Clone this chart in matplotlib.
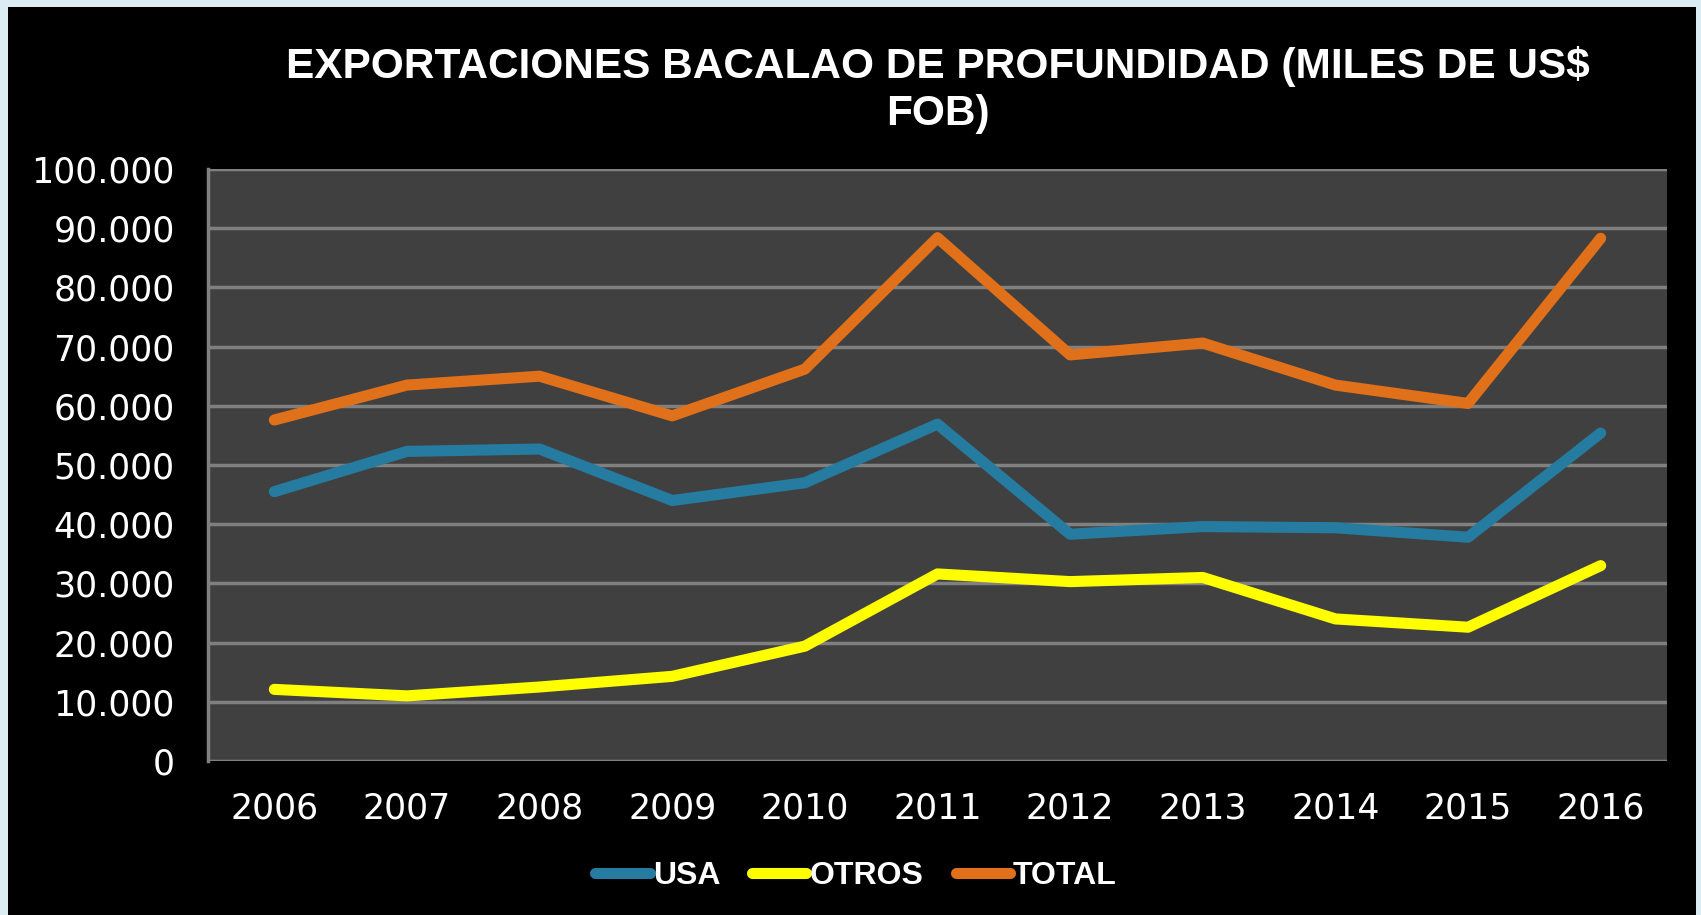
import matplotlib.pyplot as plt
from matplotlib.patches import Rectangle

# Datos (miles de US$ FOB)
years = ["2006", "2007", "2008", "2009", "2010", "2011", "2012", "2013", "2014", "2015", "2016"]
usa = [45500, 52300, 52700, 44000, 47000, 56900, 38300, 39600, 39400, 37800, 55400]
otros = [12100, 11000, 12500, 14300, 19400, 31600, 30300, 31000, 24000, 22600, 33000]
total = [57600, 63500, 65000, 58300, 66200, 88400, 68600, 70600, 63500, 60400, 88300]

W, H = 1701, 915
fig = plt.figure(figsize=(W / 100, H / 100), dpi=100, facecolor="#dcecf3")

# black slide background with a thin light border
fig.patches.append(Rectangle((8 / W, 0), (1696 - 8) / W, (H - 7) / H,
                             transform=fig.transFigure, facecolor="black",
                             edgecolor="none", zorder=-10))

ax = fig.add_axes([208 / W, (H - 761) / H, (1667 - 208) / W, (761 - 169) / H])
ax.set_facecolor("#404040")

x = range(len(years))
ax.plot(x, usa, color="#267ca0", lw=8, solid_capstyle="round", solid_joinstyle="round", label="USA", zorder=3)
ax.plot(x, otros, color="#ffff00", lw=8, solid_capstyle="round", solid_joinstyle="round", label="OTROS", zorder=3)
ax.plot(x, total, color="#e07019", lw=8, solid_capstyle="round", solid_joinstyle="round", label="TOTAL", zorder=3)

ax.set_xlim(-0.5, len(years) - 0.5)
ax.set_ylim(0, 100000)
ax.set_yticks(range(0, 100001, 10000))
ax.set_yticklabels([f"{v:,}".replace(",", ".") for v in range(0, 100001, 10000)])
ax.set_xticks(list(x))
ax.set_xticklabels(years)
ax.grid(axis="y", color="#808080", lw=2.5, zorder=1)
ax.set_axisbelow(True)

for s in ["top", "right", "bottom"]:
    ax.spines[s].set_visible(False)
ax.spines["left"].set_color("#808080")
ax.spines["left"].set_linewidth(2.5)

ax.tick_params(length=0, colors="white", labelsize=25)
ax.tick_params(axis="y", pad=24)
ax.tick_params(axis="x", pad=22)
for lab in ax.get_xticklabels() + ax.get_yticklabels():
    lab.set_family("DejaVu Sans")

fig.text(938 / W, 1 - 90 / H, "EXPORTACIONES BACALAO DE PROFUNDIDAD (MILES DE US$\nFOB)",
         ha="center", va="center", color="white", fontsize=30.5, fontweight="bold",
         family=["Liberation Sans", "DejaVu Sans"], linespacing=1.2)

leg = fig.legend(loc="center", bbox_to_anchor=(856 / W, 1 - 876 / H), ncol=3, frameon=False,
                 handlelength=1.7, handletextpad=0.1, columnspacing=1.0,
                 prop={"family": ["Liberation Sans", "DejaVu Sans"], "weight": "bold", "size": 23})
for t in leg.get_texts():
    t.set_color("white")

fig.savefig("out.png", dpi=100, facecolor=fig.get_facecolor())
